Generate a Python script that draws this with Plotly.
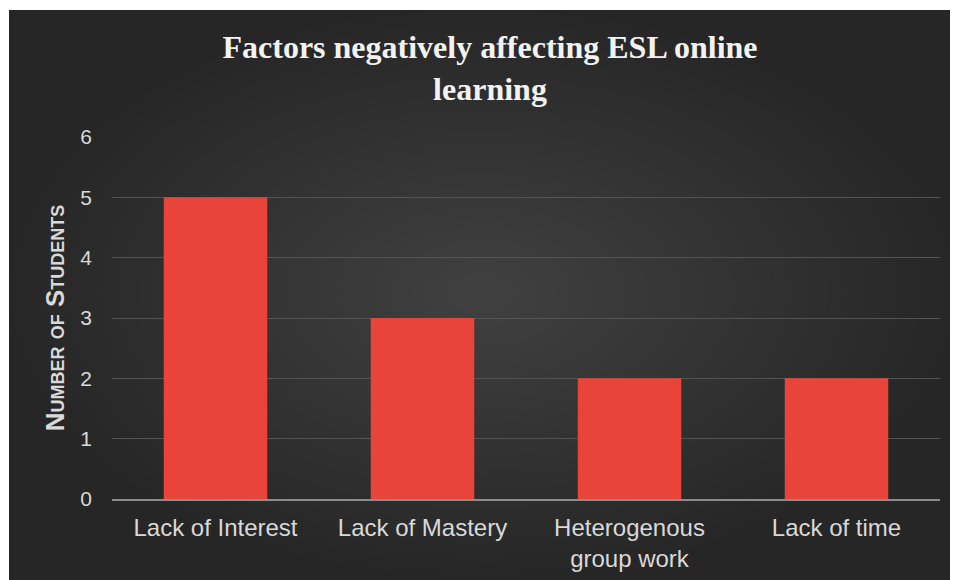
import plotly.graph_objects as go

categories = ["Lack of Interest", "Lack of Mastery", "Heterogenous<br>group work", "Lack of time"]
students = [5, 3, 2, 2]
y_ticks = [0, 1, 2, 3, 4, 5, 6]

W, H = 958, 580
# page is rendered with an 8px body margin, so figure coords = page coords - 8
L, R, T, B = 104, 932, 129, 491  # plot area pixel bounds (figure coords)

def px_x(p):
    return (p - L) / (R - L)

def px_y(p):
    return (B - p) / (B - T)

fig = go.Figure()
fig.add_trace(go.Bar(
    x=categories, y=students,
    marker=dict(color="#E8443A", line=dict(width=0)),
    width=0.5,
    hoverinfo="x+y",
))

shapes = []
# dark background rectangle
shapes.append(dict(type="rect", xref="paper", yref="paper",
                   x0=px_x(1), x1=px_x(960), y0=px_y(582), y1=px_y(2),
                   fillcolor="#262626", line=dict(width=0), layer="below"))
# radial gradient via concentric ellipses
cx, cy = 474, 285
rx_max, ry_max = 472, 283
N = 26
for i in range(N):
    f = 1 - i / N
    rx, ry = rx_max * f, ry_max * f
    shapes.append(dict(type="circle", xref="paper", yref="paper",
                       x0=px_x(cx - rx), x1=px_x(cx + rx),
                       y0=px_y(cy + ry), y1=px_y(cy - ry),
                       fillcolor="rgba(255,255,255,0.0078)", line=dict(width=0),
                       layer="below"))

fig.update_layout(
    width=W, height=H,
    margin=dict(l=L, r=W - R, t=T, b=H - B, pad=0),
    paper_bgcolor="white",
    plot_bgcolor="rgba(0,0,0,0)",
    shapes=shapes,
    showlegend=False,
    bargap=0.5,
    title=dict(
        text="<b>Factors negatively affecting ESL online<br>learning</b>",
        font=dict(family="Liberation Serif", size=32, color="#f2f2f2"),
        x=482 / W, xref="container", xanchor="center",
        y=1 - 50 / H, yref="container", yanchor="top",
    ),
    xaxis=dict(
        showgrid=False, showline=True, linecolor="#8c8c8c", linewidth=2,
        ticks="", tickfont=dict(family="Liberation Sans", size=24, color="#d9d9d9"),
        ticklabelstandoff=6, zeroline=False,
    ),
    yaxis=dict(
        range=[0, 6], tickvals=y_ticks, showgrid=True, gridcolor="#535353", gridwidth=1,
        zeroline=False, showline=False, ticks="",
        tickfont=dict(family="Liberation Sans", size=21, color="#d9d9d9"),
        ticklabelstandoff=19,
        title=dict(text="<b>Number of Students</b>",
                   font=dict(family="Liberation Sans", size=26, color="#d9d9d9", variant="small-caps"),
                   standoff=8),
    ),
)

fig.write_html("out.html")
